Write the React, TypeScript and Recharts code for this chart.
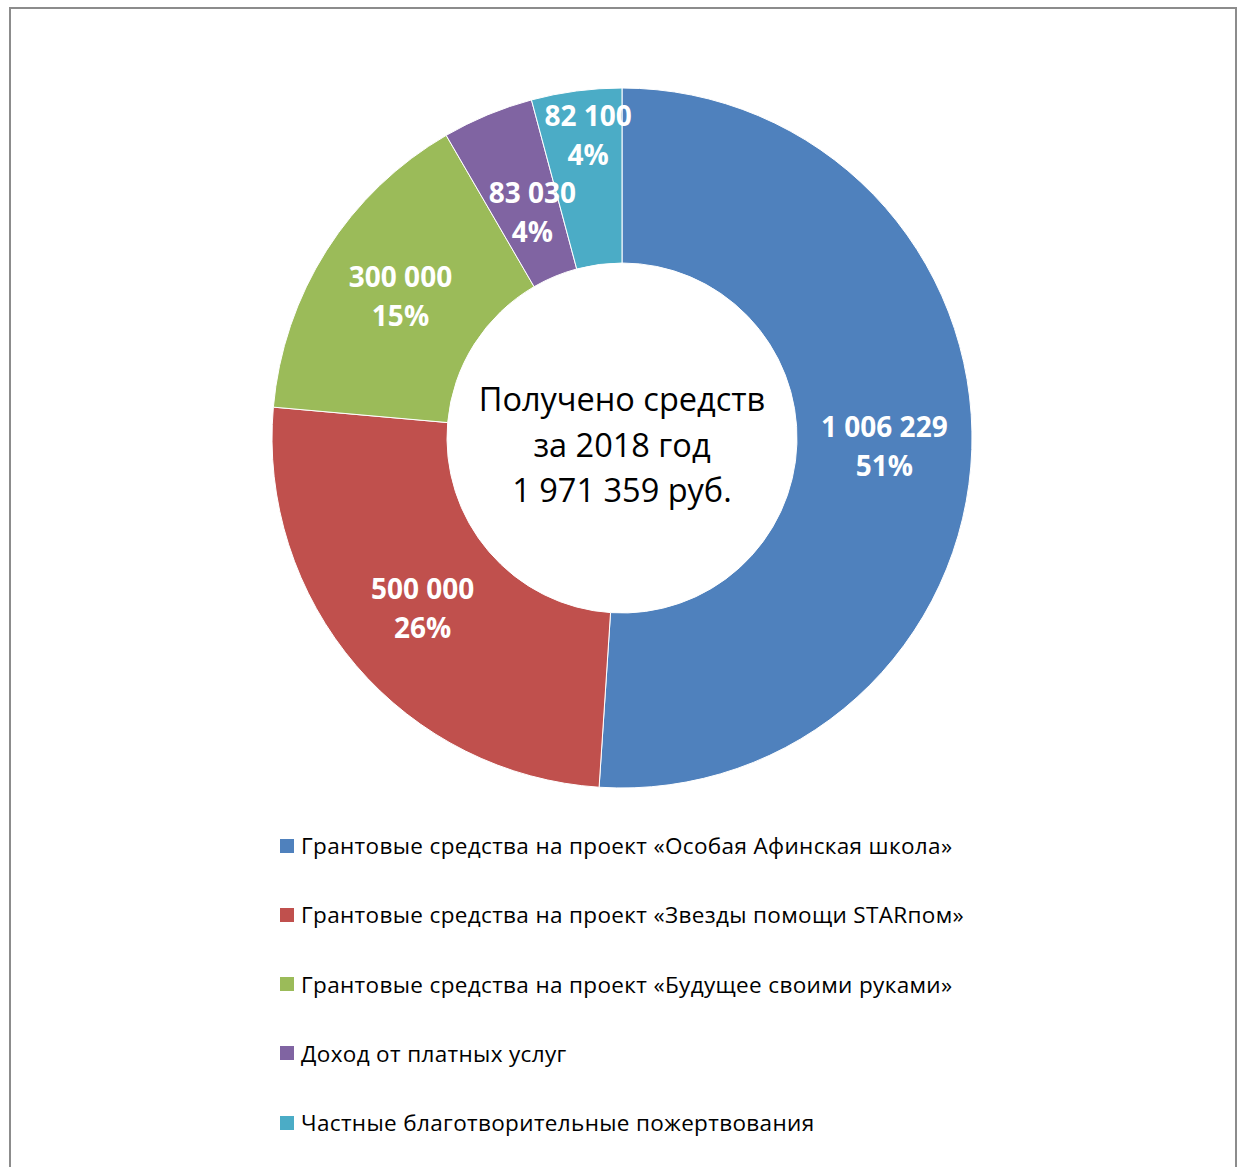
import React from 'react';
import { PieChart, Pie, Cell, Label } from 'recharts';

const categories = [
  'Грантовые средства на проект «Особая Афинская школа»',
  'Грантовые средства на проект «Звезды помощи STARпом»',
  'Грантовые средства на проект «Будущее своими руками»',
  'Доход от платных услуг',
  'Частные благотворительные пожертвования',
];
const values = [1006229, 500000, 300000, 83030, 82100];
const percentLabels = ['51%', '26%', '15%', '4%', '4%'];
const colors = ['#4F81BD', '#C0504D', '#9BBB59', '#8064A2', '#4BACC6'];
const centerLines = ['Получено средств', 'за 2018 год', '1 971 359 руб.'];

const data = categories.map((name, i) => ({ name, value: values[i] }));

const FONT = '"Open Sans", "Noto Sans", sans-serif';
const RAD = Math.PI / 180;
const CX = 622;
const CY = 438;

// label placement tweaks for the two narrow slices (radius factor, angle shift)
const labelTweaks: Record<number, { rf: number; da: number }> = {
  3: { rf: 0.694, da: -0.9 },
  4: { rf: 0.869, da: -1.1 },
};

const fmt = (v: number) => String(v).replace(/\B(?=(\d{3})+(?!\d))/g, ' ');

const renderLabel = (props: any) => {
  const { cx, cy, midAngle, outerRadius, index, value } = props;
  const tw = labelTweaks[index];
  const r = tw ? outerRadius * tw.rf : outerRadius * 0.75;
  const a = midAngle + (tw ? tw.da : 0);
  const x = cx + r * Math.cos(-a * RAD);
  const y = cy + r * Math.sin(-a * RAD);
  const gap = 19.5;
  const capHalf = 9.8;
  return (
    <g>
      <text x={x} y={y - gap + capHalf} textAnchor="middle" fill="#fff" fontFamily={FONT} fontWeight={700} fontSize={28}>
        {fmt(value)}
      </text>
      <text x={x} y={y + gap + capHalf} textAnchor="middle" fill="#fff" fontFamily={FONT} fontWeight={700} fontSize={28}>
        {percentLabels[index]}
      </text>
    </g>
  );
};

const renderCenter = () => (
  <g>
    {centerLines.map((t, i) => (
      <text key={i} x={CX} y={CY + (i - 1) * 45.5 + 18.5} textAnchor="middle" fill="#000" fontFamily={FONT} fontSize={32.5}>
        {t}
      </text>
    ))}
  </g>
);

export default function App() {
  return (
    <div style={{ position: 'absolute', left: 0, top: 0, width: 1240, height: 1167, overflow: 'hidden', background: '#fff' }}>
      <div
        style={{
          position: 'absolute',
          left: 9,
          top: 7,
          width: 1228,
          height: 1220,
          border: '2px solid #8c8c8c',
          boxSizing: 'border-box',
        }}
      />
      <div style={{ position: 'absolute', left: 0, top: 0 }}>
        <PieChart width={1240} height={800} margin={{ top: 0, right: 0, bottom: 0, left: 0 }}>
          <Pie
            data={data}
            dataKey="value"
            nameKey="name"
            cx={CX}
            cy={CY}
            innerRadius={175}
            outerRadius={350}
            startAngle={90}
            endAngle={-270}
            stroke="#fff"
            strokeWidth={1}
            label={renderLabel}
            labelLine={false}
            isAnimationActive={false}
          >
            {data.map((d, i) => (
              <Cell key={d.name} fill={colors[i]} />
            ))}
            <Label position="center" content={renderCenter} />
          </Pie>
        </PieChart>
      </div>
      <div style={{ position: 'absolute', left: 280, top: 811, fontFamily: FONT, fontSize: 22.5, letterSpacing: 0.35, color: '#000' }}>
        {categories.map((c, i) => (
          <div key={c} style={{ height: 69.25, display: 'flex', alignItems: 'center', whiteSpace: 'nowrap' }}>
            <span style={{ width: 14, height: 14, background: colors[i], display: 'inline-block', marginRight: 7 }} />
            <span>{c}</span>
          </div>
        ))}
      </div>
    </div>
  );
}
